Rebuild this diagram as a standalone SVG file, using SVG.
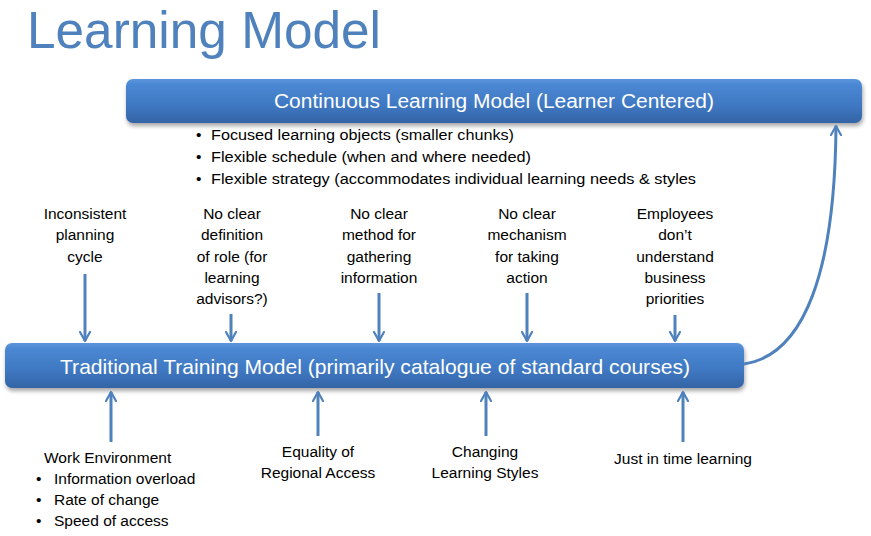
<svg xmlns="http://www.w3.org/2000/svg" width="871" height="536" viewBox="0 0 871 536">
<defs>
<linearGradient id="boxg" x1="0" y1="0" x2="0" y2="1">
<stop offset="0" stop-color="#5B95DC"/>
<stop offset="0.12" stop-color="#4B88D4"/>
<stop offset="0.6" stop-color="#3F78C2"/>
<stop offset="1" stop-color="#3464A6"/>
</linearGradient>
<filter id="sh" x="-5%" y="-20%" width="110%" height="160%">
<feGaussianBlur in="SourceAlpha" stdDeviation="2"/>
<feOffset dx="1" dy="3"/>
<feComponentTransfer><feFuncA type="linear" slope="0.35"/></feComponentTransfer>
<feMerge><feMergeNode/><feMergeNode in="SourceGraphic"/></feMerge>
</filter>
<marker id="ah" viewBox="0 0 12 12" refX="10" refY="6" markerWidth="4" markerHeight="4" orient="auto" markerUnits="strokeWidth">
<path d="M1,1 L10,6 L1,11" fill="none" stroke="#4F81BD" stroke-width="2.2" stroke-linecap="round" stroke-linejoin="round"/>
</marker>
</defs>
<style>
.t{font-family:"Liberation Sans","Open Sans",sans-serif;fill:#000;font-size:15.5px}
.c{text-anchor:middle}
.w{font-family:"Liberation Sans","Open Sans",sans-serif;fill:#fff;text-anchor:middle}
.cn{fill:none;stroke:#4F81BD;stroke-width:3;marker-end:url(#ah)}
</style>
<rect width="871" height="536" fill="#fff"/>
<text x="27" y="48" font-family="Liberation Sans,Open Sans,sans-serif" font-size="52" fill="#4F81BD" textLength="354" lengthAdjust="spacingAndGlyphs">Learning Model</text>

<g id="continuous">
<rect x="126" y="79" width="736" height="44" rx="7" fill="url(#boxg)" filter="url(#sh)"/>
<text class="w" x="494" y="108" font-size="20" textLength="440" lengthAdjust="spacingAndGlyphs">Continuous Learning Model (Learner Centered)</text>
</g>
<g id="continuous-bullets" class="t">
<text x="196" y="140">•</text><text x="211" y="140" textLength="303" lengthAdjust="spacingAndGlyphs">Focused learning objects (smaller chunks)</text>
<text x="196" y="162">•</text><text x="211" y="162" textLength="320" lengthAdjust="spacingAndGlyphs">Flexible schedule (when and where needed)</text>
<text x="196" y="184">•</text><text x="211" y="184" textLength="485" lengthAdjust="spacingAndGlyphs">Flexible strategy (accommodates individual learning needs &amp; styles</text>
</g>

<g id="traditional">
<rect x="5" y="343" width="739" height="45" rx="7" fill="url(#boxg)" filter="url(#sh)"/>
<text class="w" x="375" y="374" font-size="21" textLength="630" lengthAdjust="spacingAndGlyphs">Traditional Training Model (primarily catalogue of standard courses)</text>
</g>

<g id="top-labels" class="t c">
<g id="lbl-inconsistent"><text x="85" y="219">Inconsistent</text><text x="85" y="240">planning</text><text x="85" y="262">cycle</text></g>
<g id="lbl-definition"><text x="232" y="219">No clear</text><text x="232" y="240">definition</text><text x="232" y="262">of role (for</text><text x="232" y="283">learning</text><text x="232" y="304">advisors?)</text></g>
<g id="lbl-method"><text x="379" y="219">No clear</text><text x="379" y="240">method for</text><text x="379" y="262">gathering</text><text x="379" y="283">information</text></g>
<g id="lbl-mechanism"><text x="527" y="219">No clear</text><text x="527" y="240">mechanism</text><text x="527" y="262">for taking</text><text x="527" y="283">action</text></g>
<g id="lbl-employees"><text x="675" y="219">Employees</text><text x="675" y="240">don’t</text><text x="675" y="262">understand</text><text x="675" y="283">business</text><text x="675" y="304">priorities</text></g>
</g>

<g id="bottom-labels" class="t">
<g id="lbl-work"><text x="44" y="463">Work Environment</text>
<text x="36" y="484">•</text><text x="54" y="484">Information overload</text>
<text x="36" y="505">•</text><text x="54" y="505">Rate of change</text>
<text x="36" y="526">•</text><text x="54" y="526">Speed of access</text></g>
<g id="lbl-equality" class="c"><text x="318" y="457">Equality of</text><text x="318" y="478">Regional Access</text></g>
<g id="lbl-changing" class="c"><text x="485" y="457">Changing</text><text x="485" y="478">Learning Styles</text></g>
<g id="lbl-jit" class="c"><text x="683" y="464">Just in time learning</text></g>
</g>

<g id="connectors">
<line class="cn" x1="85" y1="274" x2="85" y2="341"/>
<line class="cn" x1="231" y1="314" x2="231" y2="341"/>
<line class="cn" x1="379" y1="293" x2="379" y2="341"/>
<line class="cn" x1="527" y1="293" x2="527" y2="341"/>
<line class="cn" x1="675" y1="315" x2="675" y2="341"/>
<line class="cn" x1="111" y1="442" x2="111" y2="392"/>
<line class="cn" x1="318" y1="436" x2="318" y2="392"/>
<line class="cn" x1="486" y1="436" x2="486" y2="392"/>
<line class="cn" x1="683" y1="442" x2="683" y2="392"/>
<path class="cn" d="M744,364 C805,355 835,270 836,126"/>
</g>
</svg>
